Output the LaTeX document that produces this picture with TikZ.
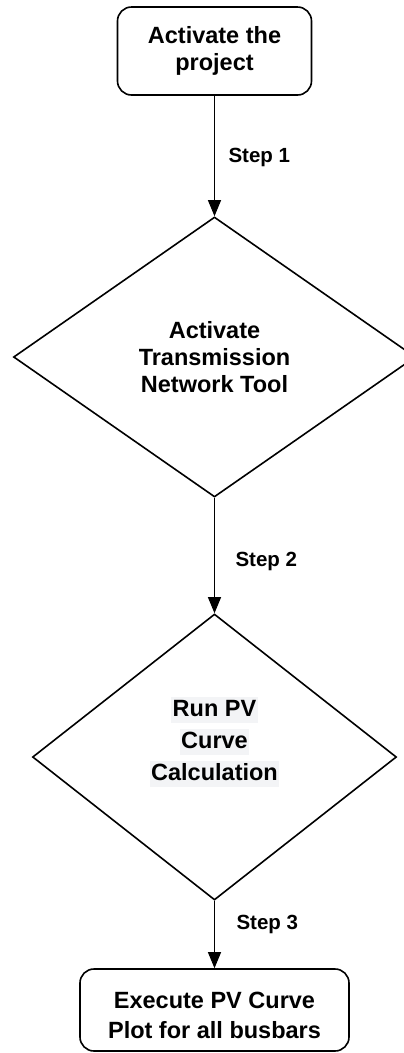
\documentclass[tikz,border=0pt]{standalone}
\usepackage{fontspec}
\setmainfont{Liberation Sans}
\usetikzlibrary{shapes.geometric,arrows.meta}
\definecolor{hl}{RGB}{243,244,246}
\begin{document}
\begin{tikzpicture}[x=1pt,y=-1pt,
  stepbox/.style={draw, line width=1.6pt, rounded corners=14pt, inner sep=0pt},
  decision/.style={draw, diamond, line width=1.6pt, inner sep=0pt, aspect=1},
  txt/.style={font=\fontsize{23.5}{27}\selectfont\bfseries, align=center, inner sep=0pt},
  hlline/.style={font=\fontsize{23.5}{27}\selectfont\bfseries, fill=hl,
    inner xsep=1.5pt, inner ysep=2.6pt, text height=16.8pt, text depth=4pt},
  steplbl/.style={font=\fontsize{20.5}{24}\selectfont\bfseries, anchor=west, inner sep=0pt},
  flow/.style={draw, line width=1pt, -{Triangle[length=16pt,width=13pt]}}
]
\useasboundingbox (0,0) rectangle (404,1053);

% start box
\node[stepbox, txt, minimum width=194pt, minimum height=88pt] (start) at (214.5,51)
  {Activate the\\project};

% first decision
\node[decision, txt, minimum width=402pt, minimum height=280pt] (d1) at (214.5,357)
  {Activate\\Transmission\\Network Tool};

% second decision, text lines with a light background
\node[decision, minimum width=364pt, minimum height=286pt] (d2) at (214.5,757) {};
\node[hlline] (d2a) at (214.5,710) {Run PV};
\node[hlline] (d2b) at (214.5,742) {Curve};
\node[hlline] (d2c) at (214.5,774) {Calculation};

% final box
\node[stepbox, minimum width=269pt, minimum height=82pt] (end) at (214.5,1010) {};
\node[txt, font=\fontsize{23.5}{30}\selectfont\bfseries] (endtxt) at (214.5,1015)
  {Execute PV Curve\\Plot for all busbars};

% connectors
\draw[flow] (start) -- node[steplbl, pos=0.51, xshift=13.5pt] (s1) {Step 1} (d1);
\draw[flow] (d1) -- node[steplbl, pos=0.55, xshift=20.5pt] (s2) {Step 2} (d2);
\draw[flow] (d2) -- node[steplbl, pos=0.35, xshift=21.5pt] (s3) {Step 3} (end);
\end{tikzpicture}
\end{document}
